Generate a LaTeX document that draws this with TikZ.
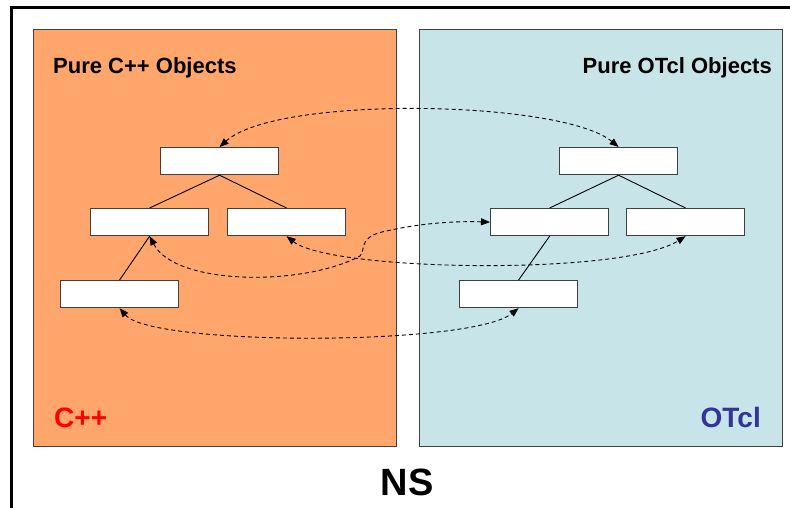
\documentclass[tikz,border=0pt]{standalone}
\usepackage{fontspec}
\setmainfont{Liberation Sans}
\usetikzlibrary{arrows.meta}
\definecolor{cppfill}{HTML}{FFA66C}
\definecolor{tclfill}{HTML}{C7E4E8}
\definecolor{tclblue}{HTML}{333399}
\definecolor{edgegray}{HTML}{404040}
\begin{document}
\begin{tikzpicture}[x=1pt,y=1pt,
  panel/.style={draw=edgegray,line width=0.9pt,inner sep=0pt,anchor=north west},
  obj/.style={draw=edgegray,fill=white,line width=1.2pt,minimum width=118pt,minimum height=27pt,inner sep=0pt,anchor=north west},
  tree/.style={draw=black,line width=0.9pt},
  link/.style={draw=black,line width=0.9pt,dash pattern=on 4pt off 3pt,{Triangle[length=9pt,width=7pt]}-{Triangle[length=9pt,width=7pt]}},
  title/.style={inner sep=0pt,font=\fontsize{22}{26}\selectfont\bfseries},
  lang/.style={inner sep=0pt,font=\fontsize{28}{32}\selectfont\bfseries}]
\clip (0,0) rectangle (790,-507);
% outer NS frame
\draw[line width=3pt] (11,-520) -- (11,-7) -- (800,-7);
% language panels
\node[panel,fill=cppfill,minimum width=363pt,minimum height=417pt] (cpp) at (33,-29) {};
\node[panel,fill=tclfill,minimum width=363pt,minimum height=417pt] (tcl) at (419,-29) {};
\node[title,anchor=base west] (cpptitle) at (53,-73) {Pure C++ Objects};
\node[title,anchor=base east] (tcltitle) at (772,-73) {Pure OTcl Objects};
\node[lang,anchor=base west,text=red] (cpplabel) at (54,-427) {C++};
\node[lang,anchor=base east,text=tclblue] (tcllabel) at (761,-427) {OTcl};
\node[inner sep=0pt,anchor=base,font=\fontsize{38}{42}\selectfont\bfseries] (ns) at (407,-495) {NS};
% C++ class tree
\node[obj] (lt) at (160,-147) {};
\node[obj] (lml) at (90,-208) {};
\node[obj] (lmr) at (227,-208) {};
\node[obj] (lb) at (60,-280) {};
% OTcl class tree
\node[obj] (rt) at (559,-147) {};
\node[obj] (rml) at (490,-208) {};
\node[obj] (rmr) at (626,-208) {};
\node[obj] (rb) at (459,-280) {};
% hierarchy lines
\draw[tree] (lt.south) -- (lml.north);
\draw[tree] (lt.south) -- (lmr.north);
\draw[tree] (lml.south) -- (lb.north);
\draw[tree] (rt.south) -- (rml.north);
\draw[tree] (rt.south) -- (rmr.north);
\draw[tree] (rml.south) -- (rb.north);
% linkage between the two hierarchies
\draw[link] (lt.north) .. controls +(57,52) and +(-57,47) .. (rt.north);
\draw[link] (lml.south) .. controls +(26,-50) and +(-55,-30) .. (360,-256)
  .. controls (366,-250) and (358,-238) .. (382,-232)
  .. controls (420,-223) and (455,-221) .. (rml.west);
\draw[link] (lmr.south) .. controls +(44,-35) and +(-64,-40) .. (rmr.south);
\draw[link] (lb.south) .. controls +(32,-38) and +(-48,-38) .. (rb.south);
\end{tikzpicture}
\end{document}
